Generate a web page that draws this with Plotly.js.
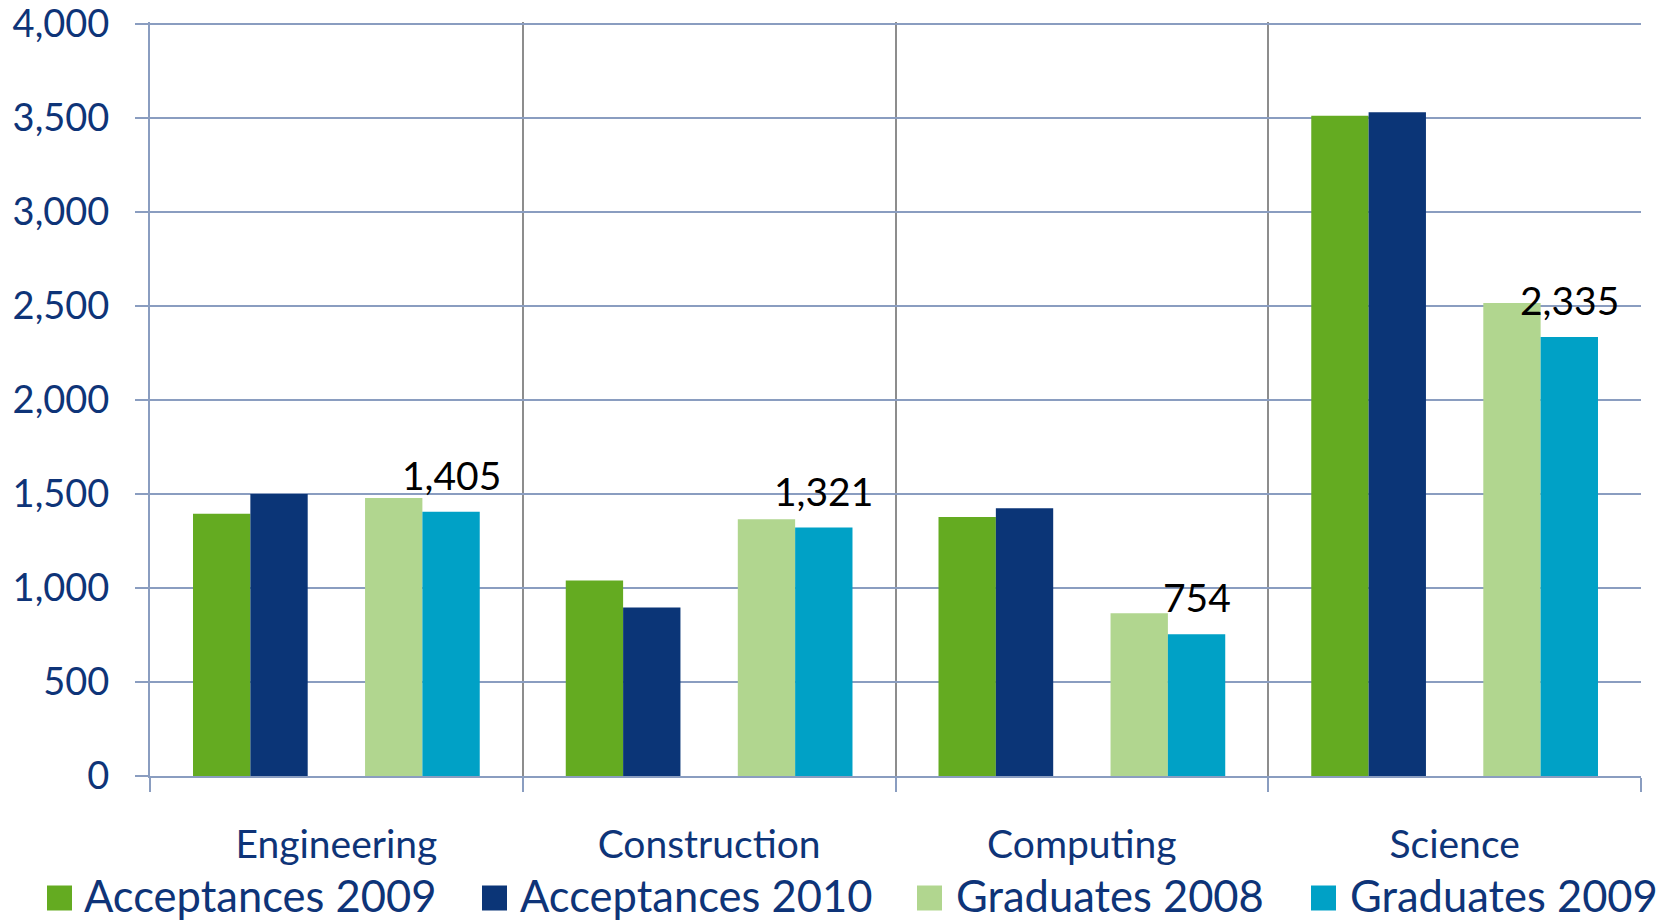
<!DOCTYPE html>
<html>
<head>
<meta charset="utf-8">
<script src="https://cdn.plot.ly/plotly-3.0.1.min.js"></script>
<style>
  html, body { margin: 0; padding: 0; background: #ffffff; }
  #chart { width: 1668px; height: 921px; }
</style>
</head>
<body>
<div id="chart"></div>
<script>
// ---- Data ----
const categories = ['Engineering', 'Construction', 'Computing', 'Science'];
const acceptances2009 = [1395, 1040, 1377, 3511];
const acceptances2010 = [1500, 896, 1424, 3530];
const graduates2008 = [1479, 1366, 866, 2516];
const graduates2009 = [1405, 1321, 754, 2335];
const seriesNames = ['Acceptances 2009', 'Acceptances 2010', 'Graduates 2008', 'Graduates 2009'];
const yTickValues = [0, 500, 1000, 1500, 2000, 2500, 3000, 3500, 4000];

// ---- Styles ----
const colors = ['#64AB21', '#0B3577', '#B1D68F', '#00A1C6'];
const textColor = '#0E3478';
const blueGrid = '#8A9DC0';
const grayGrid = '#8D8D8D';
const FONT = 'Lato, "Open Sans", sans-serif';

// Excel-like clustered layout: 5 slots (one empty) + 150% gap
const w = 1 / 6.5;
const slotOffsets = [-2, -1, 1, 2]; // slot centers in bar widths

const seriesValues = [acceptances2009, acceptances2010, graduates2008, graduates2009];

const traces = seriesValues.map((vals, i) => ({
  type: 'bar',
  name: seriesNames[i],
  x: categories,
  y: vals,
  width: w,
  offset: (slotOffsets[i] - 0.5) * w,
  marker: { color: colors[i], line: { width: 0 } },
  showlegend: false,
  hoverinfo: 'x+y+name'
}));

// Margins / geometry
const M = { l: 150, r: 27, t: 22, b: 145 };
const W = 1668, H = 921;
const pw = W - M.l - M.r, ph = H - M.t - M.b;
const px2x = px => (px - M.l) / pw;
const py2y = py => (H - M.b - py) / ph;

// Data labels for Graduates 2009
const annotations = graduates2009.map((v, i) => ({
  x: i + slotOffsets[3] * w,
  y: v,
  xref: 'x', yref: 'y',
  text: v.toLocaleString('en-US'),
  showarrow: false,
  xanchor: 'center',
  yanchor: 'bottom',
  yshift: 12,
  font: { family: FONT, size: 39, color: '#000000' }
}));

// Custom legend (large square swatches)
const legendSquareX = [47, 482, 917, 1311];
const legendTextX = [83, 519, 955, 1349];
const legendCenterY = 898;
const sq = 25;
const shapes = [];
seriesNames.forEach((name, i) => {
  shapes.push({
    type: 'rect', xref: 'paper', yref: 'paper',
    x0: px2x(legendSquareX[i]), x1: px2x(legendSquareX[i] + sq),
    y0: py2y(legendCenterY + sq / 2), y1: py2y(legendCenterY - sq / 2),
    fillcolor: colors[i], line: { width: 0 }
  });
  annotations.push({
    xref: 'paper', yref: 'paper',
    x: px2x(legendTextX[i]), y: py2y(legendCenterY - 3),
    xanchor: 'left', yanchor: 'middle',
    borderpad: 0,
    text: name, showarrow: false,
    font: { family: FONT, size: 43.5, color: textColor }
  });
});

const layout = {
  width: W, height: H,
  margin: M,
  paper_bgcolor: '#ffffff',
  plot_bgcolor: '#ffffff',
  barmode: 'overlay',
  showlegend: false,
  xaxis: {
    type: 'category',
    categoryorder: 'array',
    categoryarray: categories,
    tickson: 'boundaries',
    ticks: 'outside',
    ticklen: 14,
    tickwidth: 2,
    tickcolor: blueGrid,
    showgrid: true,
    gridcolor: grayGrid,
    gridwidth: 2,
    showline: true,
    linecolor: blueGrid,
    linewidth: 2,
    zeroline: false,
    ticklabelstandoff: 33,
    tickfont: { family: FONT, size: 39, color: textColor },
    fixedrange: true
  },
  yaxis: {
    range: [0, 4010],
    tickvals: yTickValues,
    ticktext: yTickValues.map(v => v.toLocaleString('en-US')),
    ticks: 'outside',
    ticklen: 13,
    tickwidth: 2,
    tickcolor: blueGrid,
    showgrid: true,
    gridcolor: blueGrid,
    gridwidth: 2,
    showline: true,
    linecolor: blueGrid,
    linewidth: 2,
    zeroline: false,
    ticklabelstandoff: 18,
    ticklabeloverflow: 'allow',
    tickfont: { family: FONT, size: 38, color: textColor },
    fixedrange: true
  },
  shapes: shapes,
  annotations: annotations
};

Plotly.newPlot('chart', traces, layout, { displayModeBar: false, staticPlot: false });
</script>
</body>
</html>
